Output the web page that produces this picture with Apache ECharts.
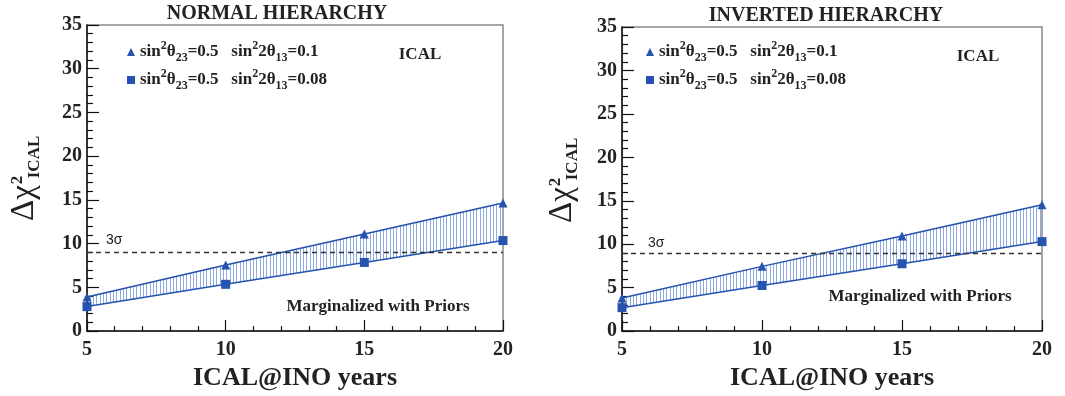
<!DOCTYPE html>
<html>
<head>
<meta charset="utf-8">
<script src="https://cdn.jsdelivr.net/npm/echarts@6/dist/echarts.min.js"></script>
<style>
html,body{margin:0;padding:0;background:#fff;}
#chart{width:1065px;height:396px;}
</style>
</head>
<body>
<div id="chart"></div>
<script>
// ---- data ----
var years = [5, 10, 15, 20];
var nhTheta13_01 = [3.9, 7.55, 11.1, 14.65];
var nhTheta13_008 = [2.8, 5.35, 7.85, 10.35];
var ihTheta13_01 = [3.8, 7.45, 10.95, 14.55];
var ihTheta13_008 = [2.7, 5.25, 7.75, 10.3];
var threeSigma = 9;
var panelTitles = ['NORMAL HIERARCHY', 'INVERTED HIERARCHY'];
var legendLabels = [
  'sin{sup|2}θ{sub|23}=0.5   sin{sup|2}2θ{sub|13}=0.1',
  'sin{sup|2}θ{sub|23}=0.5   sin{sup|2}2θ{sub|13}=0.08'
];
var xTitle = 'ICAL@INO years';

var BLUE = '#2553ad';
var SERIF = '"Liberation Serif", "Times New Roman", serif';

function pairs(xs, ys) { return xs.map(function (x, i) { return [x, ys[i]]; }); }

// hatch pattern (vertical lines)
var pc = document.createElement('canvas');
pc.width = 10; pc.height = 10;
var ctx = pc.getContext('2d');
ctx.strokeStyle = 'rgba(80,125,210,0.65)';
ctx.lineWidth = 1;
[0.5, 3.5, 6.5].forEach(function (x) { ctx.beginPath(); ctx.moveTo(x, 0); ctx.lineTo(x, 10); ctx.stroke(); });
var hatch = { image: pc, repeat: 'repeat' };

var grids = [
  { left: 87, top: 25, width: 416, height: 309 },
  { left: 622, top: 27, width: 420, height: 308 }
];

function xAxisFor(i) {
  return {
    type: 'value', gridIndex: i, min: 5, max: 20, interval: 5,
    axisLine: { lineStyle: { color: '#111', width: 1.5 } },
    axisTick: { inside: true, length: 11, lineStyle: { color: '#111', width: 1.2 } },
    minorTick: { show: true, splitNumber: 5, length: 5, lineStyle: { color: '#111', width: 1.2 } },
    splitLine: { show: false },
    axisLabel: { margin: 9, color: '#222', fontFamily: SERIF, fontWeight: 'bold', fontSize: 20 },
    name: xTitle, nameLocation: 'middle', nameGap: 31,
    nameTextStyle: { color: '#222', fontFamily: SERIF, fontWeight: 'bold', fontSize: 26 }
  };
}
function yAxisFor(i) {
  return {
    type: 'value', gridIndex: i, min: 0, max: 35, interval: 5,
    axisLine: { show: true, lineStyle: { color: '#111', width: 1.5 } },
    axisTick: { show: true, inside: true, length: 12, lineStyle: { color: '#111', width: 1.2 } },
    minorTick: { show: true, splitNumber: 5, length: 6, lineStyle: { color: '#111', width: 1.2 } },
    splitLine: { show: false },
    axisLabel: { margin: 5, color: '#222', fontFamily: SERIF, fontWeight: 'bold', fontSize: 20 }
  };
}

var panels = [
  { up: nhTheta13_01, lo: nhTheta13_008 },
  { up: ihTheta13_01, lo: ihTheta13_008 }
];

var series = [];
panels.forEach(function (p, i) {
  series.push({
    type: 'custom', xAxisIndex: i, yAxisIndex: i, silent: true, z: 1,
    data: [[years[0], p.lo[0]]],
    renderItem: function (params, api) {
      var pts = [];
      years.forEach(function (x, k) { pts.push(api.coord([x, p.up[k]])); });
      for (var k = years.length - 1; k >= 0; k--) pts.push(api.coord([years[k], p.lo[k]]));
      return { type: 'polygon', shape: { points: pts }, style: { fill: hatch, stroke: null } };
    }
  });
  series.push({
    name: 'A', type: 'line', xAxisIndex: i, yAxisIndex: i, z: 3,
    data: pairs(years, p.up), symbol: 'triangle', symbolSize: 9,
    itemStyle: { color: BLUE }, lineStyle: { color: BLUE, width: 1.5 },
    markLine: {
      silent: true, symbol: 'none', label: { show: false },
      lineStyle: { color: '#333', type: [5, 4], width: 1.3 },
      data: [{ yAxis: threeSigma }]
    }
  });
  series.push({
    name: 'B', type: 'line', xAxisIndex: i, yAxisIndex: i, z: 3,
    data: pairs(years, p.lo), symbol: 'rect', symbolSize: 9,
    itemStyle: { color: BLUE }, lineStyle: { color: BLUE, width: 1.5 }
  });
});

var rich = {
  sup: { fontFamily: SERIF, fontWeight: 'bold', fontSize: 12, color: '#222', verticalAlign: 'top', lineHeight: 12 },
  sub: { fontFamily: SERIF, fontWeight: 'bold', fontSize: 12, color: '#222', verticalAlign: 'bottom', lineHeight: 12 }
};
function legendFor(left) {
  return {
    orient: 'vertical', left: left, top: 35, itemGap: 4, itemWidth: 8, itemHeight: 8,
    selectedMode: false,
    data: [{ name: 'A', icon: 'triangle' }, { name: 'B', icon: 'rect' }],
    formatter: function (n) { return n === 'A' ? legendLabels[0] : legendLabels[1]; },
    textStyle: { fontFamily: SERIF, fontWeight: 'bold', fontSize: 17, color: '#222', lineHeight: 24, rich: rich }
  };
}

function txt(x, y, s, size, opts) {
  var st = Object.assign({ text: s, x: 0, y: 0, fontFamily: SERIF, fontWeight: 'bold', fontSize: size, fill: '#222', align: 'center', verticalAlign: 'middle' }, opts || {});
  return { type: 'text', x: x, y: y, style: st, silent: true };
}
function yTitle(cx, dy) {
  return [
    Object.assign(txt(cx, 203 + dy, 'Δχ', 33, { fontWeight: 'normal' }), { rotation: Math.PI / 2 }),
    Object.assign(txt(cx - 6, 180 + dy, '2', 17, {}), { rotation: Math.PI / 2 }),
    Object.assign(txt(cx + 11, 157 + dy, 'ICAL', 17, {}), { rotation: Math.PI / 2 })
  ];
}

var graphics = [
  txt(277, 14, panelTitles[0], 20),
  txt(826, 16, panelTitles[1], 20),
  txt(420, 55, 'ICAL', 17),
  txt(978, 57, 'ICAL', 17),
  txt(378, 307, 'Marginalized with Priors', 17),
  txt(920, 297, 'Marginalized with Priors', 17),
  txt(106, 240, '3σ', 14, { fontFamily: '"Liberation Sans", Arial, sans-serif', fontWeight: 'normal', align: 'left' }),
  txt(648, 243, '3σ', 14, { fontFamily: '"Liberation Sans", Arial, sans-serif', fontWeight: 'normal', align: 'left' })
].concat(yTitle(24, 0)).concat(yTitle(562, 2));

var chart = echarts.init(document.getElementById('chart'), null, { renderer: 'canvas' });
chart.setOption({
  animation: false,
  backgroundColor: '#fff',
  grid: grids.map(function (g) { return Object.assign({ show: true, borderColor: '#888', borderWidth: 1.5, backgroundColor: 'transparent', containLabel: false }, g); }),
  xAxis: [xAxisFor(0), xAxisFor(1)],
  yAxis: [yAxisFor(0), yAxisFor(1)],
  legend: [legendFor(122), legendFor(641)],
  series: series,
  graphic: graphics
});
</script>
</body>
</html>
